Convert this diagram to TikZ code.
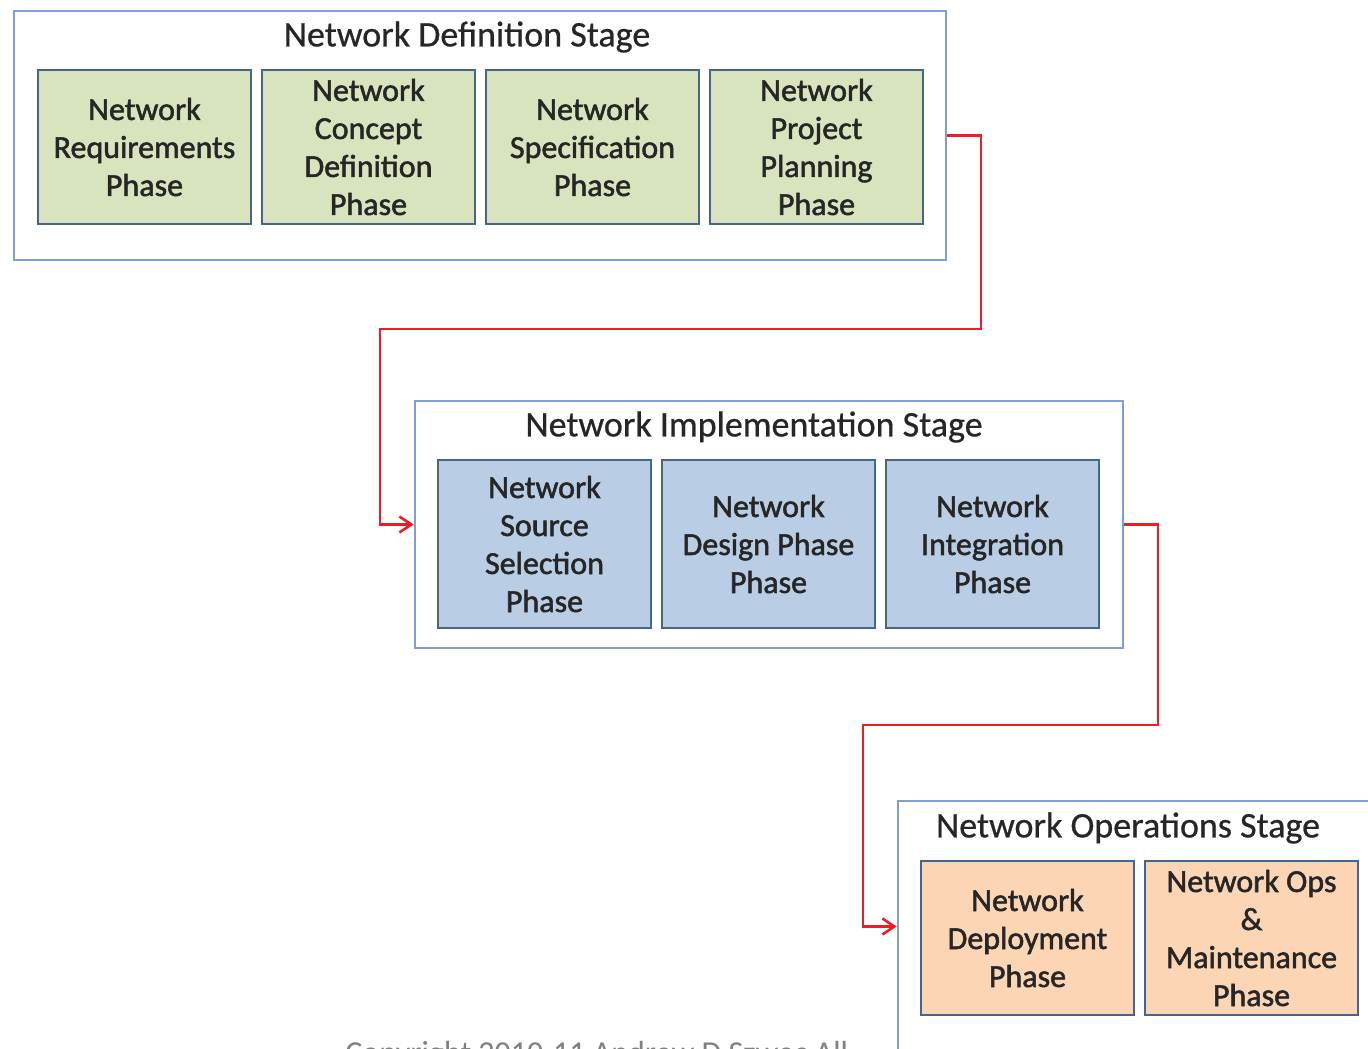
\documentclass[tikz,border=0pt]{standalone}
\usepackage{fontspec}
\setmainfont{Carlito}
\newfontfamily\phasefont[FakeBold=1.6]{Carlito}
\newfontfamily\titlefont[FakeBold=0.6]{Carlito}
\usetikzlibrary{arrows.meta}

\definecolor{stageline}{HTML}{7F9ED3}
\definecolor{phaseline}{HTML}{46648C}
\definecolor{defgreen}{HTML}{D7E4BD}
\definecolor{implblue}{HTML}{B9CDE5}
\definecolor{opsorange}{HTML}{FCD5B5}
\definecolor{flowred}{HTML}{EE1C25}
\definecolor{phasetext}{HTML}{262626}

\tikzset{
  stage/.style={draw=stageline,line width=1.3pt,fill=white,inner sep=0pt},
  phase/.style={draw=phaseline,line width=1.4pt,align=center,inner sep=0pt,text=phasetext,
                minimum width=106.5pt,font=\phasefont\fontsize{16}{19}\selectfont},
  title/.style={font=\titlefont\fontsize{18}{21}\selectfont,text=phasetext},
  flow/.style={draw=flowred,line width=1.3pt,->}
}

\begin{document}
\begin{tikzpicture}[x=0.5pt,y=-0.5pt,every path/.style={>={Straight Barb[length=6pt,width=8pt]}}]
  \clip (0,0) rectangle (1368,1048);
  \fill[white] (0,0) rectangle (1368,1048);

  % stages
  \node[stage,minimum width=466pt,minimum height=124.5pt] (def)  at (480,135.5) {};
  \node[stage,minimum width=354pt,minimum height=123.5pt] (impl) at (769,524.5) {};
  \node[stage,minimum width=251pt,minimum height=125.5pt] (ops)  at (1149,926.5) {};

  \node[title] (deft)  at (467,37)  {Network Definition Stage};
  \node[title] (implt) at (754,427) {Network Implementation Stage};
  \node[title] (opst)  at (1128,828) {Network Operations Stage};

  % phases
  \node[phase,fill=defgreen,minimum height=77pt] (req)  at (144.5,147) {Network\\Requirements\\Phase};
  \node[phase,fill=defgreen,minimum height=77pt] (con)  at (368.5,147) {Network\\Concept\\Definition\\Phase};
  \node[phase,fill=defgreen,minimum height=77pt] (spec) at (592.5,147) {Network\\Specification\\Phase};
  \node[phase,fill=defgreen,minimum height=77pt] (plan) at (816.5,147) {Network\\Project\\Planning\\Phase};

  \node[phase,fill=implblue,minimum height=84pt] (src) at (544.5,544) {Network\\Source\\Selection\\Phase};
  \node[phase,fill=implblue,minimum height=84pt] (des) at (768.5,544) {Network\\Design Phase\\Phase};
  \node[phase,fill=implblue,minimum height=84pt] (int) at (992.5,544) {Network\\Integration\\Phase};

  \node[phase,fill=opsorange,minimum height=77pt] (dep)   at (1027.5,938) {Network\\Deployment\\Phase};
  \node[phase,fill=opsorange,minimum height=77pt] (maint) at (1251.5,938) {Network Ops\\\&\\Maintenance\\Phase};

  % links
  \coordinate (k1) at (981,329);
  \coordinate (k2) at (380,329);
  \coordinate (k3) at (1158,725);
  \coordinate (k4) at (863,725);
  \draw[flow] (def.east) -| (k1) -- (k2) |- (impl.west);
  \draw[flow] (impl.east) -| (k3) -- (k4) |- (ops.west);

  \node[anchor=base west,text=gray,font=\fontsize{16}{19}\selectfont,inner sep=0pt] (copy) at (345,1063)
    {Copyright 2010-11 Andrew D Szwec All};
\end{tikzpicture}
\end{document}
